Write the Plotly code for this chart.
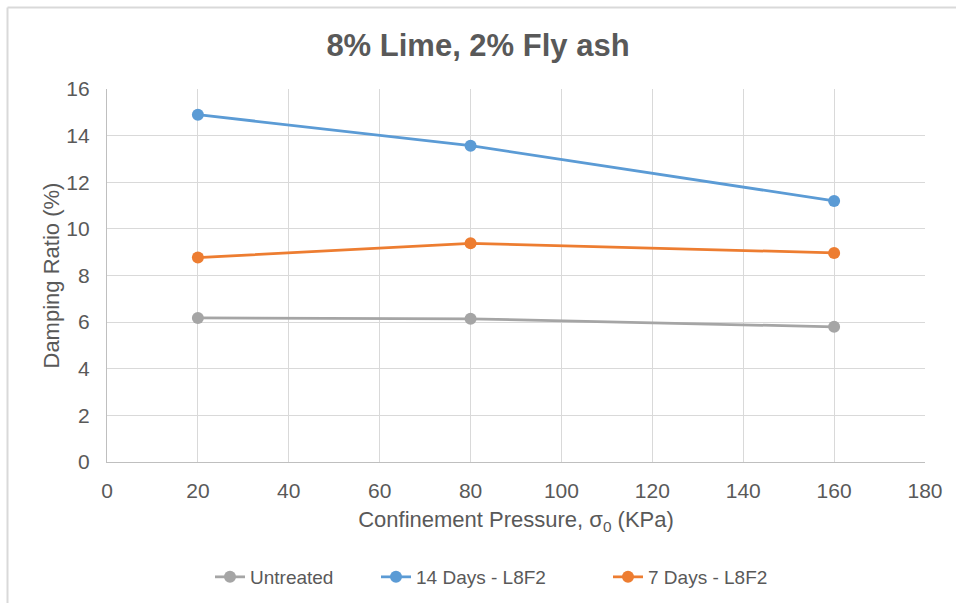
import plotly.graph_objects as go

# Confinement pressure (kPa) and damping ratio (%) per mix
pressure = [20, 80, 160]
untreated = [6.18, 6.14, 5.80]
days14_l8f2 = [14.9, 13.57, 11.2]
days7_l8f2 = [8.77, 9.38, 8.97]

series = [
    ("Untreated", untreated, "#a5a5a5"),
    ("14 Days - L8F2", days14_l8f2, "#5b9bd5"),
    ("7 Days - L8F2", days7_l8f2, "#ed7d31"),
]

font_family = "Liberation Sans, Arial, sans-serif"
text_color = "#595959"

# plot area in pixels: left 107, right 925, top 89, bottom 462
PX_L, PX_W, PX_B, PX_H = 107, 818, 462, 373


def px_x(px):
    return (px - PX_L) / PX_W


def px_y(py):
    return (PX_B - py) / PX_H


legend_ids = ["legend", "legend2", "legend3"]
legend_left = [210, 376, 608]

fig = go.Figure()
for (name, values, color), lid in zip(series, legend_ids):
    fig.add_trace(go.Scatter(
        x=pressure, y=values, name=name, mode="lines+markers",
        line=dict(color=color, width=2.75),
        marker=dict(color=color, size=12),
        legend=lid,
    ))

axis_common = dict(showgrid=True, gridcolor="#d9d9d9", gridwidth=1.3,
                   zeroline=False, showline=True, linecolor="#bfbfbf",
                   linewidth=1.3, ticks="",
                   tickfont=dict(size=21, color=text_color))

layout = dict(
    width=956, height=603,
    margin=dict(l=107, r=31, t=89, b=141, autoexpand=False),
    paper_bgcolor="white", plot_bgcolor="white",
    font=dict(family=font_family, color=text_color, size=20),
    title=dict(text="<b>8% Lime, 2% Fly ash</b>", x=0.5, xanchor="center",
               y=1 - 45 / 603, yanchor="middle",
               font=dict(size=31, color=text_color, family=font_family)),
    xaxis=dict(range=[0, 180], tick0=0, dtick=20, ticklabelstandoff=10,
               title=dict(text="Confinement Pressure, σ<sub>0</sub> (KPa)",
                          font=dict(size=22, color=text_color), standoff=10),
               **axis_common),
    yaxis=dict(range=[0, 16], tick0=0, dtick=2, ticklabelstandoff=12,
               **axis_common),
    showlegend=True,
)
for lid, left in zip(legend_ids, legend_left):
    layout[lid] = dict(orientation="h", x=px_x(left), xanchor="left",
                       y=px_y(577), yanchor="middle",
                       font=dict(size=19, color=text_color),
                       bgcolor="rgba(0,0,0,0)")
fig.update_layout(**layout)

# Y-axis title
fig.add_annotation(text="Damping Ratio (%)", xref="paper", yref="paper",
                   x=px_x(51), y=0.5, textangle=-90, showarrow=False,
                   xanchor="center", yanchor="middle",
                   font=dict(size=22, color=text_color))

# Frame edges of the chart area (top and left)
fig.add_shape(type="line", xref="paper", yref="paper",
              x0=px_x(7.5), x1=px_x(956), y0=px_y(7.5), y1=px_y(7.5),
              line=dict(color="#d9d9d9", width=2))
fig.add_shape(type="line", xref="paper", yref="paper",
              x0=px_x(7.5), x1=px_x(7.5), y0=px_y(7.5), y1=px_y(603),
              line=dict(color="#d9d9d9", width=2))

fig.write_html("out.html")
